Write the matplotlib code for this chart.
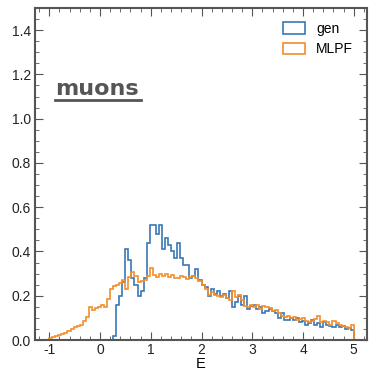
import numpy as np
import matplotlib.pyplot as plt
from matplotlib.ticker import MultipleLocator

plt.rcParams['font.family'] = ['Liberation Sans', 'DejaVu Sans']

# 100 bins of width 0.06 between -1 and 5
edges = np.linspace(-1, 5, 101)

gen = [
    0, 0, 0, 0, 0, 0, 0, 0, 0, 0,
    0, 0, 0, 0, 0, 0, 0, 0, 0, 0,
    0, 0.02, 0.16, 0.20, 0.26, 0.41, 0.36, 0.28, 0.25, 0.20,
    0.22, 0.28, 0.44, 0.52, 0.52, 0.48, 0.52, 0.41, 0.46, 0.43,
    0.40, 0.37, 0.44, 0.37, 0.34, 0.34, 0.28, 0.29, 0.32, 0.27,
    0.25, 0.24, 0.20, 0.23, 0.21, 0.22, 0.20, 0.21, 0.19, 0.22,
    0.15, 0.17, 0.20, 0.16, 0.20, 0.14, 0.155, 0.16, 0.14, 0.15,
    0.12, 0.13, 0.14, 0.13, 0.12, 0.10, 0.12, 0.09, 0.09, 0.10,
    0.09, 0.10, 0.08, 0.085, 0.07, 0.075, 0.09, 0.07, 0.075, 0.06,
    0.08, 0.07, 0.065, 0.06, 0.07, 0.06, 0.065, 0.05, 0.055, 0.045,
]

mlpf = [
    0.010, 0.012, 0.018, 0.024, 0.028, 0.033, 0.040, 0.048, 0.058, 0.062,
    0.070, 0.085, 0.105, 0.147, 0.135, 0.145, 0.150, 0.158, 0.150, 0.185,
    0.230, 0.245, 0.250, 0.258, 0.270, 0.230, 0.285, 0.305, 0.290, 0.262,
    0.268, 0.272, 0.290, 0.325, 0.292, 0.285, 0.300, 0.290, 0.300, 0.285,
    0.295, 0.280, 0.280, 0.290, 0.285, 0.275, 0.285, 0.290, 0.278, 0.265,
    0.250, 0.232, 0.205, 0.215, 0.205, 0.200, 0.195, 0.205, 0.190, 0.180,
    0.220, 0.195, 0.205, 0.180, 0.155, 0.150, 0.160, 0.150, 0.160, 0.140,
    0.155, 0.150, 0.145, 0.130, 0.135, 0.120, 0.110, 0.105, 0.110, 0.100,
    0.105, 0.090, 0.095, 0.100, 0.085, 0.080, 0.085, 0.095, 0.110, 0.080,
    0.085, 0.080, 0.070, 0.085, 0.075, 0.070, 0.065, 0.060, 0.055, 0.070,
]

fig = plt.figure(figsize=(3.69, 3.71), dpi=100)
ax = fig.add_axes([35 / 369, 31 / 371, 332 / 369, 332 / 371])

centers = 0.5 * (edges[:-1] + edges[1:])
ax.hist(centers, bins=edges, weights=gen, histtype='step',
        color='#3a78b5', lw=1.2, label='gen')
ax.hist(centers, bins=edges, weights=mlpf, histtype='step',
        color='#f28e2b', lw=1.2, label='MLPF')

ax.set_xlim(-1.28, 5.26)
ax.set_ylim(0, 1.5)
ax.xaxis.set_major_locator(MultipleLocator(1))
ax.xaxis.set_minor_locator(MultipleLocator(0.2))
ax.yaxis.set_major_locator(MultipleLocator(0.2))
ax.yaxis.set_minor_locator(MultipleLocator(0.05))
ax.xaxis.set_major_formatter(plt.FuncFormatter(lambda v, p: f'{v:.0f}'))
ax.yaxis.set_major_formatter(plt.FuncFormatter(lambda v, p: f'{v:.1f}'))

frame = '#555555'
for s in ax.spines.values():
    s.set_color(frame)
    s.set_linewidth(1.5)
ax.tick_params(which='both', direction='in', top=True, right=True,
               color=frame, labelsize=10, labelcolor='#222222', pad=3)
ax.tick_params(axis='x', pad=2)
ax.tick_params(which='major', length=6, width=0.8)
ax.tick_params(which='minor', length=3, width=0.6)

ax.set_xlabel('E', fontsize=10.5, labelpad=0.5)

ax.text(0.062, 0.737, 'muons', transform=ax.transAxes, fontsize=16,
        fontweight='bold', color='#555555', family=['Verdana', 'DejaVu Sans'])
ax.plot([0.06, 0.318], [0.722, 0.722], transform=ax.transAxes,
        color='#555555', lw=2)

ax.legend(loc='upper right', frameon=False, fontsize=10,
          handlelength=1.6, handleheight=0.9, borderaxespad=0.6,
          labelspacing=0.45)

fig.savefig('out.png', dpi=100)
